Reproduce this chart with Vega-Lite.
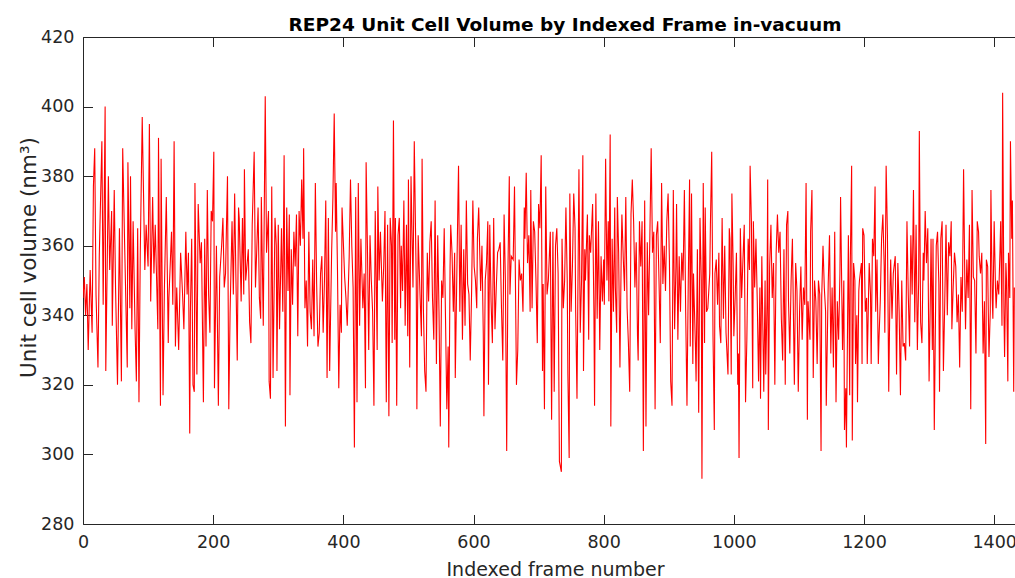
{
"$schema": "https://vega.github.io/schema/vega-lite/v6.json",
"width": 932, "height": 487,
"autosize": {"type": "none"},
"padding": {"left": 83, "top": 37, "right": 0, "bottom": 54},
"background": "white",
"config": {"font": "DejaVu Sans", "view": {"stroke": null}},
"title": {"text": "REP24 Unit Cell Volume by Indexed Frame in-vacuum", "font": "DejaVu Sans", "fontSize": 18.5, "fontWeight": "bold", "color": "#000000", "anchor": "middle", "dx": 16, "dy": 28, "baseline": "alphabetic", "offset": 7},
"data": {"values": [
{"frame":0,"vol":345},{"frame":2,"vol":351},{"frame":4,"vol":340},{"frame":6,"vol":349},{"frame":8,"vol":330},{"frame":11,"vol":353},{"frame":14,"vol":335},{"frame":16,"vol":377},{"frame":18,"vol":388},{"frame":20,"vol":346},{"frame":23,"vol":325},{"frame":25,"vol":357},{"frame":29,"vol":390},{"frame":31,"vol":343},{"frame":34,"vol":400},{"frame":35,"vol":324},{"frame":39,"vol":380},{"frame":41,"vol":353},{"frame":44,"vol":370},{"frame":45,"vol":337},{"frame":48,"vol":376},{"frame":50,"vol":348},{"frame":53,"vol":320},{"frame":56,"vol":365},{"frame":59,"vol":321},{"frame":61,"vol":388},{"frame":64,"vol":360},{"frame":68,"vol":325},{"frame":69,"vol":384},{"frame":72,"vol":342},{"frame":73,"vol":380},{"frame":75,"vol":336},{"frame":77,"vol":367},{"frame":80,"vol":336},{"frame":82,"vol":321},{"frame":84,"vol":365},{"frame":86,"vol":315},{"frame":88,"vol":358},{"frame":91,"vol":397},{"frame":93,"vol":375},{"frame":95,"vol":353},{"frame":97,"vol":366},{"frame":100,"vol":354},{"frame":102,"vol":395},{"frame":104,"vol":344},{"frame":107,"vol":374},{"frame":109,"vol":352},{"frame":111,"vol":366},{"frame":113,"vol":351},{"frame":115,"vol":336},{"frame":116,"vol":391},{"frame":119,"vol":314},{"frame":120,"vol":385},{"frame":123,"vol":317},{"frame":125,"vol":347},{"frame":128,"vol":374},{"frame":131,"vol":332},{"frame":132,"vol":345},{"frame":136,"vol":364},{"frame":138,"vol":343},{"frame":140,"vol":390},{"frame":142,"vol":331},{"frame":144,"vol":348},{"frame":147,"vol":330},{"frame":150,"vol":358},{"frame":153,"vol":346},{"frame":155,"vol":336},{"frame":158,"vol":364},{"frame":160,"vol":346},{"frame":162,"vol":358},{"frame":164,"vol":306},{"frame":165,"vol":341},{"frame":167,"vol":362},{"frame":169,"vol":320},{"frame":171,"vol":318},{"frame":172,"vol":378},{"frame":175,"vol":323},{"frame":177,"vol":372},{"frame":180,"vol":355},{"frame":182,"vol":361},{"frame":185,"vol":315},{"frame":187,"vol":362},{"frame":189,"vol":331},{"frame":191,"vol":376},{"frame":193,"vol":346},{"frame":195,"vol":335},{"frame":197,"vol":370},{"frame":199,"vol":367},{"frame":201,"vol":387},{"frame":202,"vol":319},{"frame":205,"vol":360},{"frame":206,"vol":346},{"frame":208,"vol":314},{"frame":210,"vol":351},{"frame":213,"vol":360},{"frame":215,"vol":368},{"frame":217,"vol":348},{"frame":219,"vol":352},{"frame":222,"vol":380},{"frame":224,"vol":313},{"frame":226,"vol":341},{"frame":229,"vol":367},{"frame":231,"vol":346},{"frame":233,"vol":375},{"frame":235,"vol":350},{"frame":237,"vol":327},{"frame":239,"vol":371},
{"frame":240,"vol":368},{"frame":243,"vol":344},{"frame":245,"vol":368},{"frame":247,"vol":346},{"frame":248,"vol":382},{"frame":250,"vol":350},{"frame":254,"vol":359},{"frame":256,"vol":338},{"frame":258,"vol":332},{"frame":260,"vol":366},{"frame":263,"vol":387},{"frame":265,"vol":348},{"frame":267,"vol":359},{"frame":269,"vol":371},{"frame":271,"vol":345},{"frame":273,"vol":339},{"frame":274,"vol":374},{"frame":277,"vol":337},{"frame":280,"vol":403},{"frame":282,"vol":358},{"frame":285,"vol":370},{"frame":286,"vol":321},{"frame":288,"vol":316},{"frame":290,"vol":377},{"frame":292,"vol":322},{"frame":295,"vol":368},{"frame":297,"vol":360},{"frame":298,"vol":324},{"frame":300,"vol":366},{"frame":302,"vol":336},{"frame":305,"vol":365},{"frame":307,"vol":341},{"frame":309,"vol":386},{"frame":311,"vol":308},{"frame":313,"vol":371},{"frame":315,"vol":347},{"frame":317,"vol":369},{"frame":318,"vol":317},{"frame":320,"vol":359},{"frame":322,"vol":343},{"frame":324,"vol":364},{"frame":326,"vol":354},{"frame":328,"vol":369},{"frame":330,"vol":334},{"frame":332,"vol":370},{"frame":334,"vol":360},{"frame":336,"vol":379},{"frame":338,"vol":362},{"frame":339,"vol":388},{"frame":341,"vol":342},{"frame":343,"vol":350},{"frame":345,"vol":331},{"frame":347,"vol":364},{"frame":349,"vol":341},{"frame":351,"vol":336},{"frame":353,"vol":356},{"frame":355,"vol":334},{"frame":357,"vol":378},{"frame":359,"vol":349},{"frame":361,"vol":331},{"frame":363,"vol":335},{"frame":365,"vol":352},{"frame":367,"vol":357},{"frame":369,"vol":335},{"frame":371,"vol":350},{"frame":373,"vol":373},{"frame":375,"vol":322},{"frame":377,"vol":368},{"frame":379,"vol":324},{"frame":382,"vol":358},{"frame":384,"vol":374},{"frame":386,"vol":398},{"frame":388,"vol":364},{"frame":389,"vol":378},{"frame":391,"vol":353},{"frame":393,"vol":319},{"frame":395,"vol":343},{"frame":397,"vol":335},{"frame":398,"vol":371},{"frame":400,"vol":361},{"frame":402,"vol":351},{"frame":404,"vol":345},{"frame":406,"vol":337},{"frame":409,"vol":357},{"frame":411,"vol":379},{"frame":413,"vol":360},{"frame":415,"vol":348},{"frame":417,"vol":302},{"frame":419,"vol":374},{"frame":421,"vol":315},{"frame":423,"vol":378},{"frame":425,"vol":337},{"frame":427,"vol":362},{"frame":430,"vol":342},{"frame":432,"vol":352},{"frame":434,"vol":319},{"frame":435,"vol":384},{"frame":437,"vol":360},{"frame":439,"vol":330},{"frame":441,"vol":363},{"frame":443,"vol":350},{"frame":445,"vol":341},{"frame":447,"vol":314},{"frame":449,"vol":370},{"frame":452,"vol":330},{"frame":453,"vol":377},{"frame":455,"vol":350},{"frame":457,"vol":364},{"frame":460,"vol":344},{"frame":462,"vol":354},{"frame":464,"vol":370},{"frame":466,"vol":315},{"frame":468,"vol":366},{"frame":470,"vol":311},{"frame":472,"vol":368},{"frame":474,"vol":360},{"frame":475,"vol":332},{"frame":477,"vol":396},
{"frame":479,"vol":333},{"frame":480,"vol":368},{"frame":482,"vol":314},{"frame":484,"vol":363},{"frame":486,"vol":368},{"frame":488,"vol":342},{"frame":489,"vol":360},{"frame":491,"vol":347},{"frame":493,"vol":373},{"frame":495,"vol":337},{"frame":497,"vol":366},{"frame":499,"vol":334},{"frame":500,"vol":379},{"frame":502,"vol":325},{"frame":504,"vol":380},{"frame":507,"vol":348},{"frame":508,"vol":367},{"frame":509,"vol":390},{"frame":512,"vol":350},{"frame":513,"vol":313},{"frame":515,"vol":363},{"frame":518,"vol":345},{"frame":520,"vol":334},{"frame":521,"vol":385},{"frame":523,"vol":342},{"frame":525,"vol":324},{"frame":527,"vol":318},{"frame":529,"vol":358},{"frame":531,"vol":344},{"frame":533,"vol":361},{"frame":535,"vol":367},{"frame":537,"vol":345},{"frame":539,"vol":333},{"frame":541,"vol":373},{"frame":543,"vol":326},{"frame":545,"vol":363},{"frame":547,"vol":341},{"frame":549,"vol":308},{"frame":551,"vol":350},{"frame":553,"vol":345},{"frame":555,"vol":365},{"frame":557,"vol":339},{"frame":559,"vol":313},{"frame":561,"vol":331},{"frame":562,"vol":302},{"frame":564,"vol":354},{"frame":565,"vol":366},{"frame":567,"vol":358},{"frame":569,"vol":341},{"frame":571,"vol":358},{"frame":572,"vol":322},{"frame":574,"vol":347},{"frame":576,"vol":372},{"frame":577,"vol":383},{"frame":579,"vol":341},{"frame":581,"vol":366},{"frame":583,"vol":333},{"frame":585,"vol":359},{"frame":587,"vol":337},{"frame":589,"vol":373},{"frame":591,"vol":349},{"frame":593,"vol":346},{"frame":595,"vol":327},{"frame":597,"vol":346},{"frame":599,"vol":373},{"frame":601,"vol":354},{"frame":603,"vol":350},{"frame":605,"vol":342},{"frame":606,"vol":362},{"frame":608,"vol":371},{"frame":611,"vol":347},{"frame":613,"vol":360},{"frame":615,"vol":335},{"frame":616,"vol":311},{"frame":618,"vol":350},{"frame":620,"vol":355},{"frame":622,"vol":367},{"frame":623,"vol":320},{"frame":625,"vol":366},{"frame":627,"vol":344},{"frame":629,"vol":332},{"frame":631,"vol":368},{"frame":633,"vol":336},{"frame":635,"vol":348},{"frame":637,"vol":358},{"frame":639,"vol":359},{"frame":641,"vol":361},{"frame":643,"vol":342},{"frame":645,"vol":327},{"frame":647,"vol":369},{"frame":649,"vol":350},{"frame":651,"vol":301},{"frame":653,"vol":354},{"frame":655,"vol":380},{"frame":656,"vol":346},{"frame":658,"vol":357},{"frame":661,"vol":356},{"frame":663,"vol":377},{"frame":665,"vol":339},{"frame":666,"vol":320},{"frame":668,"vol":330},{"frame":670,"vol":356},{"frame":672,"vol":350},{"frame":674,"vol":352},{"frame":676,"vol":341},{"frame":678,"vol":371},{"frame":679,"vol":362},{"frame":681,"vol":381},{"frame":683,"vol":355},{"frame":685,"vol":363},{"frame":687,"vol":341},{"frame":688,"vol":376},{"frame":690,"vol":342},{"frame":692,"vol":367},{"frame":694,"vol":364},{"frame":696,"vol":350},{"frame":698,"vol":332},{"frame":700,"vol":372},{"frame":702,"vol":365},{"frame":704,"vol":386},{"frame":706,"vol":324},{"frame":707,"vol":349},{"frame":709,"vol":313},{"frame":711,"vol":377},{"frame":713,"vol":346},{"frame":715,"vol":350},
{"frame":718,"vol":364},{"frame":720,"vol":310},{"frame":722,"vol":364},{"frame":724,"vol":318},{"frame":726,"vol":360},{"frame":728,"vol":365},{"frame":730,"vol":352},{"frame":732,"vol":298},{"frame":735,"vol":295},{"frame":736,"vol":362},{"frame":738,"vol":342},{"frame":740,"vol":350},{"frame":742,"vol":371},{"frame":744,"vol":350},{"frame":745,"vol":323},{"frame":747,"vol":299},{"frame":748,"vol":375},{"frame":750,"vol":341},{"frame":752,"vol":354},{"frame":754,"vol":375},{"frame":756,"vol":365},{"frame":757,"vol":341},{"frame":759,"vol":316},{"frame":761,"vol":360},{"frame":762,"vol":382},{"frame":764,"vol":335},{"frame":766,"vol":350},{"frame":768,"vol":386},{"frame":769,"vol":324},{"frame":771,"vol":359},{"frame":772,"vol":350},{"frame":774,"vol":363},{"frame":775,"vol":369},{"frame":777,"vol":333},{"frame":778,"vol":363},{"frame":780,"vol":358},{"frame":783,"vol":372},{"frame":785,"vol":341},{"frame":786,"vol":314},{"frame":788,"vol":375},{"frame":790,"vol":339},{"frame":792,"vol":367},{"frame":794,"vol":330},{"frame":796,"vol":357},{"frame":798,"vol":344},{"frame":800,"vol":356},{"frame":801,"vol":343},{"frame":803,"vol":385},{"frame":805,"vol":350},{"frame":807,"vol":367},{"frame":808,"vol":344},{"frame":810,"vol":392},{"frame":811,"vol":308},{"frame":813,"vol":362},{"frame":815,"vol":341},{"frame":817,"vol":371},{"frame":818,"vol":348},{"frame":820,"vol":335},{"frame":821,"vol":374},{"frame":823,"vol":358},{"frame":825,"vol":325},{"frame":827,"vol":358},{"frame":828,"vol":369},{"frame":830,"vol":357},{"frame":832,"vol":347},{"frame":834,"vol":374},{"frame":836,"vol":342},{"frame":838,"vol":332},{"frame":840,"vol":318},{"frame":842,"vol":369},{"frame":844,"vol":379},{"frame":846,"vol":367},{"frame":848,"vol":348},{"frame":850,"vol":361},{"frame":852,"vol":334},{"frame":853,"vol":327},{"frame":855,"vol":367},{"frame":857,"vol":354},{"frame":859,"vol":367},{"frame":861,"vol":301},{"frame":863,"vol":373},{"frame":865,"vol":308},{"frame":867,"vol":361},{"frame":869,"vol":340},{"frame":871,"vol":363},{"frame":873,"vol":388},{"frame":875,"vol":358},{"frame":877,"vol":364},{"frame":879,"vol":313},{"frame":881,"vol":363},{"frame":883,"vol":367},{"frame":885,"vol":350},{"frame":887,"vol":332},{"frame":889,"vol":378},{"frame":891,"vol":349},{"frame":893,"vol":360},{"frame":895,"vol":347},{"frame":897,"vol":367},{"frame":899,"vol":375},{"frame":901,"vol":356},{"frame":903,"vol":321},{"frame":905,"vol":314},{"frame":907,"vol":376},{"frame":909,"vol":336},{"frame":911,"vol":354},{"frame":912,"vol":372},{"frame":914,"vol":333},{"frame":916,"vol":357},{"frame":918,"vol":341},{"frame":920,"vol":358},{"frame":922,"vol":350},{"frame":924,"vol":376},{"frame":926,"vol":341},{"frame":928,"vol":314},{"frame":930,"vol":350},{"frame":932,"vol":379},{"frame":933,"vol":331},{"frame":935,"vol":375},{"frame":937,"vol":326},{"frame":938,"vol":352},{"frame":941,"vol":331},{"frame":942,"vol":321},{"frame":944,"vol":359},{"frame":946,"vol":312},{"frame":948,"vol":368},{"frame":950,"vol":350},{"frame":951,"vol":293},{"frame":953,"vol":378},
{"frame":955,"vol":332},{"frame":956,"vol":371},{"frame":958,"vol":341},{"frame":960,"vol":342},{"frame":963,"vol":352},{"frame":964,"vol":366},{"frame":966,"vol":387},{"frame":968,"vol":334},{"frame":970,"vol":307},{"frame":971,"vol":352},{"frame":973,"vol":356},{"frame":975,"vol":343},{"frame":977,"vol":358},{"frame":978,"vol":337},{"frame":980,"vol":332},{"frame":982,"vol":368},{"frame":984,"vol":339},{"frame":986,"vol":360},{"frame":988,"vol":335},{"frame":990,"vol":327},{"frame":991,"vol":323},{"frame":993,"vol":365},{"frame":994,"vol":362},{"frame":996,"vol":323},{"frame":997,"vol":375},{"frame":999,"vol":354},{"frame":1000,"vol":334},{"frame":1002,"vol":345},{"frame":1004,"vol":358},{"frame":1006,"vol":320},{"frame":1007,"vol":329},{"frame":1008,"vol":299},{"frame":1010,"vol":365},{"frame":1012,"vol":345},{"frame":1014,"vol":356},{"frame":1016,"vol":366},{"frame":1018,"vol":315},{"frame":1020,"vol":333},{"frame":1022,"vol":362},{"frame":1024,"vol":353},{"frame":1025,"vol":383},{"frame":1027,"vol":367},{"frame":1029,"vol":319},{"frame":1030,"vol":367},{"frame":1032,"vol":348},{"frame":1034,"vol":362},{"frame":1036,"vol":344},{"frame":1038,"vol":321},{"frame":1040,"vol":348},{"frame":1041,"vol":316},{"frame":1043,"vol":357},{"frame":1046,"vol":318},{"frame":1048,"vol":350},{"frame":1049,"vol":323},{"frame":1051,"vol":344},{"frame":1052,"vol":379},{"frame":1053,"vol":307},{"frame":1055,"vol":354},{"frame":1057,"vol":366},{"frame":1059,"vol":345},{"frame":1061,"vol":355},{"frame":1063,"vol":320},{"frame":1065,"vol":358},{"frame":1067,"vol":369},{"frame":1069,"vol":358},{"frame":1071,"vol":364},{"frame":1073,"vol":339},{"frame":1075,"vol":327},{"frame":1077,"vol":359},{"frame":1079,"vol":320},{"frame":1081,"vol":366},{"frame":1083,"vol":370},{"frame":1084,"vol":344},{"frame":1086,"vol":329},{"frame":1088,"vol":350},{"frame":1090,"vol":362},{"frame":1093,"vol":320},{"frame":1095,"vol":355},{"frame":1097,"vol":347},{"frame":1099,"vol":318},{"frame":1101,"vol":341},{"frame":1103,"vol":354},{"frame":1105,"vol":333},{"frame":1107,"vol":348},{"frame":1109,"vol":343},{"frame":1111,"vol":378},{"frame":1113,"vol":310},{"frame":1114,"vol":344},{"frame":1117,"vol":333},{"frame":1118,"vol":364},{"frame":1120,"vol":376},{"frame":1122,"vol":322},{"frame":1124,"vol":350},{"frame":1126,"vol":344},{"frame":1128,"vol":326},{"frame":1130,"vol":350},{"frame":1132,"vol":346},{"frame":1134,"vol":301},{"frame":1135,"vol":345},{"frame":1137,"vol":360},{"frame":1139,"vol":348},{"frame":1141,"vol":341},{"frame":1142,"vol":314},{"frame":1145,"vol":349},{"frame":1147,"vol":363},{"frame":1149,"vol":329},{"frame":1151,"vol":348},{"frame":1153,"vol":325},{"frame":1155,"vol":364},{"frame":1157,"vol":315},{"frame":1159,"vol":344},{"frame":1161,"vol":333},{"frame":1163,"vol":352},{"frame":1164,"vol":374},{"frame":1167,"vol":330},{"frame":1169,"vol":350},{"frame":1170,"vol":307},{"frame":1172,"vol":319},{"frame":1173,"vol":302},{"frame":1175,"vol":343},{"frame":1176,"vol":363},{"frame":1178,"vol":317},{"frame":1179,"vol":356},{"frame":1181,"vol":383},{"frame":1182,"vol":304},{"frame":1184,"vol":355},{"frame":1186,"vol":350},{"frame":1187,"vol":326},{"frame":1189,"vol":340},{"frame":1190,"vol":315},{"frame":1192,"vol":347},
{"frame":1193,"vol":350},{"frame":1196,"vol":355},{"frame":1197,"vol":326},{"frame":1198,"vol":365},{"frame":1200,"vol":363},{"frame":1202,"vol":341},{"frame":1204,"vol":345},{"frame":1205,"vol":326},{"frame":1207,"vol":346},{"frame":1208,"vol":355},{"frame":1210,"vol":346},{"frame":1211,"vol":326},{"frame":1213,"vol":362},{"frame":1215,"vol":357},{"frame":1217,"vol":377},{"frame":1218,"vol":341},{"frame":1220,"vol":356},{"frame":1222,"vol":326},{"frame":1223,"vol":333},{"frame":1225,"vol":344},{"frame":1227,"vol":362},{"frame":1229,"vol":369},{"frame":1231,"vol":354},{"frame":1232,"vol":335},{"frame":1234,"vol":383},{"frame":1236,"vol":363},{"frame":1238,"vol":318},{"frame":1240,"vol":348},{"frame":1241,"vol":356},{"frame":1243,"vol":339},{"frame":1245,"vol":352},{"frame":1248,"vol":357},{"frame":1250,"vol":323},{"frame":1252,"vol":355},{"frame":1254,"vol":341},{"frame":1256,"vol":317},{"frame":1258,"vol":350},{"frame":1260,"vol":331},{"frame":1262,"vol":332},{"frame":1264,"vol":327},{"frame":1266,"vol":367},{"frame":1268,"vol":346},{"frame":1270,"vol":331},{"frame":1272,"vol":363},{"frame":1274,"vol":346},{"frame":1276,"vol":376},{"frame":1278,"vol":338},{"frame":1280,"vol":366},{"frame":1282,"vol":330},{"frame":1284,"vol":350},{"frame":1285,"vol":393},{"frame":1287,"vol":338},{"frame":1289,"vol":332},{"frame":1291,"vol":358},{"frame":1292,"vol":350},{"frame":1294,"vol":370},{"frame":1296,"vol":355},{"frame":1298,"vol":365},{"frame":1300,"vol":321},{"frame":1302,"vol":346},{"frame":1303,"vol":362},{"frame":1305,"vol":330},{"frame":1306,"vol":362},{"frame":1308,"vol":307},{"frame":1311,"vol":360},{"frame":1313,"vol":364},{"frame":1315,"vol":349},{"frame":1316,"vol":318},{"frame":1318,"vol":362},{"frame":1320,"vol":367},{"frame":1322,"vol":324},{"frame":1324,"vol":343},{"frame":1326,"vol":366},{"frame":1328,"vol":340},{"frame":1330,"vol":361},{"frame":1332,"vol":357},{"frame":1334,"vol":367},{"frame":1335,"vol":336},{"frame":1337,"vol":348},{"frame":1339,"vol":358},{"frame":1341,"vol":354},{"frame":1343,"vol":338},{"frame":1345,"vol":346},{"frame":1347,"vol":325},{"frame":1349,"vol":351},{"frame":1351,"vol":341},{"frame":1353,"vol":382},{"frame":1355,"vol":348},{"frame":1356,"vol":336},{"frame":1358,"vol":356},{"frame":1360,"vol":345},{"frame":1362,"vol":366},{"frame":1364,"vol":313},{"frame":1366,"vol":376},{"frame":1368,"vol":351},{"frame":1370,"vol":350},{"frame":1372,"vol":329},{"frame":1374,"vol":367},{"frame":1376,"vol":364},{"frame":1377,"vol":357},{"frame":1379,"vol":352},{"frame":1381,"vol":358},{"frame":1383,"vol":329},{"frame":1385,"vol":344},{"frame":1387,"vol":303},{"frame":1388,"vol":356},{"frame":1390,"vol":354},{"frame":1392,"vol":328},{"frame":1394,"vol":341},{"frame":1395,"vol":376},{"frame":1397,"vol":345},{"frame":1398,"vol":339},{"frame":1400,"vol":367},{"frame":1402,"vol":348},{"frame":1403,"vol":342},{"frame":1405,"vol":350},{"frame":1407,"vol":346},{"frame":1409,"vol":359},{"frame":1410,"vol":367},{"frame":1412,"vol":337},{"frame":1413,"vol":404},{"frame":1415,"vol":341},{"frame":1416,"vol":328},{"frame":1418,"vol":355},{"frame":1419,"vol":350},{"frame":1421,"vol":321},{"frame":1422,"vol":358},{"frame":1424,"vol":345},{"frame":1425,"vol":390},{"frame":1427,"vol":362},{"frame":1428,"vol":373},{"frame":1430,"vol":318},{"frame":1431,"vol":348}
]},
"layer": [
{"mark": {"type": "line", "color": "#ff0000", "strokeWidth": 1.1, "clip": true},
 "encoding": {
  "x": {"field": "frame", "type": "quantitative", "scale": {"domain": [0, 1432], "nice": false, "zero": false},
   "axis": {"orient": "bottom", "values": [0,200,400,600,800,1000,1200,1400], "format": "d", "title": "Indexed frame number", "titleFont": "DejaVu Sans", "titleFontSize": 19, "titleFontWeight": "normal", "titleColor": "#262626", "titleX": 472, "titleY": 51, "titleBaseline": "alphabetic", "titleAnchor": null,
    "labelFont": "DejaVu Sans", "labelFontSize": 17.5, "labelColor": "#262626", "labelBaseline": "alphabetic", "labelPadding": 33, "labelFlush": false, "labelOverlap": false,
    "tickSize": -9.5, "tickColor": "#262626", "tickWidth": 1, "domainColor": "#262626", "domainWidth": 1, "grid": false}},
  "y": {"field": "vol", "type": "quantitative", "scale": {"domain": [280, 420], "nice": false, "zero": false},
   "axis": {"orient": "left", "values": [280,300,320,340,360,380,400,420], "format": "d", "title": "Unit cell volume (nm³)", "titleFont": "DejaVu Sans", "titleFontSize": 21.5, "titleFontWeight": "normal", "titleColor": "#262626", "titleX": -48, "titleY": 220, "titleAngle": 270, "titleBaseline": "alphabetic", "titleAnchor": null,
    "labelFont": "DejaVu Sans", "labelFontSize": 17.5, "labelColor": "#262626", "labelPadding": 18.5, "labelFlush": false, "labelOverlap": false,
    "tickSize": -9.5, "tickColor": "#262626", "tickWidth": 1, "domainColor": "#262626", "domainWidth": 1, "grid": false}}
 }},
{"mark": {"type": "line", "strokeOpacity": 0},
 "encoding": {
  "x": {"field": "frame", "type": "quantitative",
   "axis": {"orient": "top", "values": [0,200,400,600,800,1000,1200,1400], "labels": false, "title": null, "tickSize": -9.5, "tickColor": "#262626", "tickWidth": 1, "domainColor": "#262626", "domainWidth": 1, "grid": false}},
  "y": {"field": "vol", "type": "quantitative", "axis": null}
 }}
],
"resolve": {"axis": {"x": "independent", "y": "independent"}}
}
